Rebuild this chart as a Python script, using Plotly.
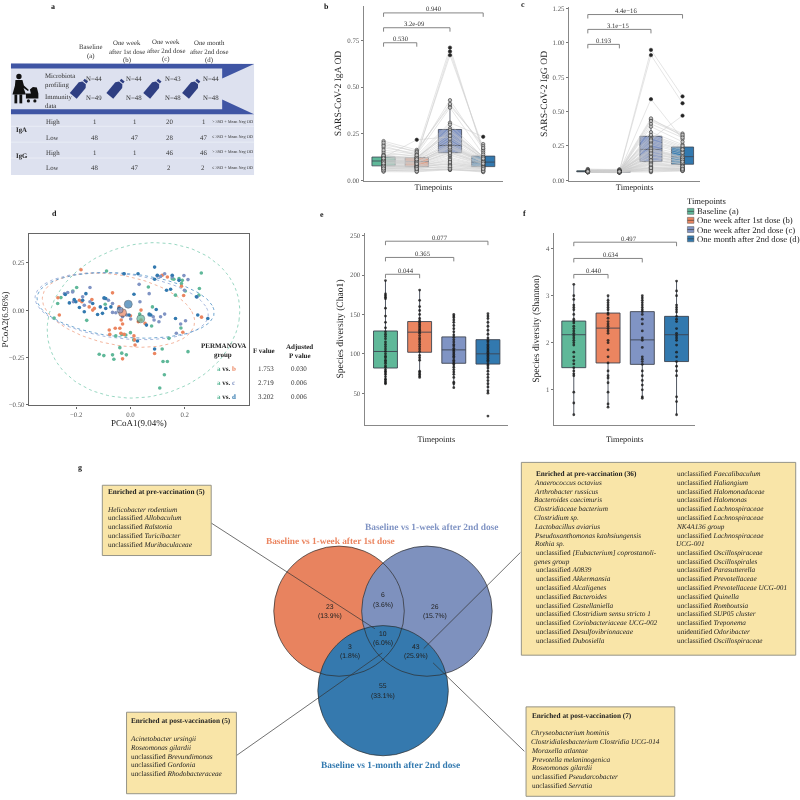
import math
import plotly.graph_objects as go

# ---------- data ----------
TIMEPOINTS = ["Baseline (a)", "One week after 1st dose (b)", "One week after 2nd dose (c)", "One month after 2nd dose (d)"]
COLORS = ["#5FB899", "#EB8560", "#8094C4", "#3279AF"]

IGA_A = [.106,.052,.131,.088,.212,.072,.097,.118,.064,.143,.083,.109,.058,.125,.092,.176,
         .075,.101,.137,.049,.114,.086,.193,.068,.105,.122,.079,.154,.095,.061,.112,.128,
         .082,.203,.099,.071,.117,.164,.056,.108,.091,.134,.077,.186,.103,.066,.120,.094]
IGA_B = [.112,.062,.118,.081,.165,.078,.102,.124,.071,.135,.079,.098,.055,.219,.088,.147,
         .083,.094,.121,.048,.109,.076,.158,.066,.101,.127,.069,.129,.092,.058,.106,.116,
         .074,.152,.096,.072,.113,.141,.051,.104,.086,.123,.073,.137,.099,.064,.115,.091]
IGA_C = [.192,.058,.28,.125,.40,.088,.16,.265,.071,.31,.135,.19,.062,.235,.15,.43,
         .105,.175,.27,.06,.21,.118,.41,.082,.185,.25,.095,.69,.155,.07,.20,.26,
         .112,.71,.168,.09,.225,.39,.065,.18,.14,.30,.10,.67,.178,.078,.24,.148]
IGA_D = [.108,.055,.125,.082,.196,.07,.095,.13,.062,.235,.085,.104,.05,.12,.09,.17,
         .076,.098,.128,.047,.112,.08,.185,.066,.102,.118,.074,.16,.094,.058,.11,.122,
         .078,.15,.1,.068,.115,.14,.052,.105,.088,.127,.072,.175,.101,.064,.119,.092]
IGG_A = [.065,.062,.068,.06,.07,.064,.066,.078,.063,.067,.061,.065,.069,.058,.064,.082,
         .066,.063,.07,.06,.065,.068,.062,.066,.064,.072,.061,.067,.065,.063,.069,.06,
         .066,.064,.075,.062,.068,.065,.063,.067,.061,.07,.064,.066,.059,.068,.063,.065]
IGG_B = [.064,.06,.066,.058,.068,.062,.065,.08,.061,.066,.06,.063,.067,.055,.063,.076,
         .065,.061,.068,.059,.064,.066,.06,.065,.062,.07,.06,.065,.064,.061,.067,.058,
         .065,.062,.072,.061,.066,.064,.061,.065,.06,.068,.063,.064,.057,.066,.062,.064]
IGG_C = [.225,.06,.32,.14,.44,.09,.17,.31,.075,.948,.15,.22,.065,.28,.16,.45,
         .12,.19,.30,.08,.24,.13,.43,.10,.21,.27,.11,.91,.18,.085,.23,.35,
         .125,.59,.20,.095,.26,.41,.07,.215,.145,.33,.115,.39,.195,.09,.29,.17]
IGG_D = [.17,.07,.24,.12,.34,.085,.14,.23,.075,.61,.12,.165,.068,.22,.13,.32,
         .10,.15,.47,.08,.19,.11,.33,.09,.16,.21,.095,.56,.14,.075,.175,.26,
         .105,.30,.155,.085,.20,.31,.072,.165,.125,.25,.10,.28,.15,.082,.225,.135]

# box summaries: low fence, q1, median, q3, high fence
IGA_BOX = [[.05,.08,.106,.127,.212],[.048,.076,.103,.124,.165],[.058,.15,.189,.274,.43],[.047,.076,.10,.132,.196]]
IGG_BOX = [[.058,.062,.065,.069,.082],[.055,.06,.064,.067,.08],[.06,.136,.225,.32,.45],[.068,.117,.172,.242,.35]]
CHAO_BOX = [[62,82,103,129,193],[70,102,127.5,141,181],[57,88,105,121.5,150],[50,87,100,118,151]]
SHAN_BOX = [[.47,1.47,2.17,2.46,3.24],[.63,1.57,2.31,2.63,3.0],[.82,1.54,2.06,2.66,3.0],[.47,1.6,2.17,2.56,3.31]]

CHAO_A = [62,63,65,67,68,71,74,76,78,80,83,85,88,90,92,95,97,100,103,106,109,112,115,119,122,125,128,133,140,148,158,170,172,174,176,193]
CHAO_B = [70,72,74,76,78,92,95,98,103,106,109,112,115,118,120,123,126,128,130,132,134,136,138,140,142,145,150,155,160,168,181]
CHAO_C = [57,62,64,70,74,77,80,83,86,88,90,92,95,97,99,101,103,105,107,110,112,115,118,121,124,128,132,136,140,143,146,148,150]
CHAO_D = [21,50,53,58,62,66,70,74,78,82,85,87,90,92,94,96,98,100,102,104,106,108,110,112,115,117,120,125,130,135,140,145,148,151]
SHAN_A = [.47,.72,.95,1.3,1.34,1.4,1.47,1.55,1.62,1.7,1.8,1.95,2.0,2.05,2.1,2.15,2.2,2.25,2.3,2.35,2.42,2.46,2.5,2.6,2.7,2.75,2.8,2.92,3.0,3.24]
SHAN_B = [.63,.7,.95,1.15,1.25,1.3,1.4,1.57,1.7,1.85,2.0,2.05,2.2,2.25,2.3,2.35,2.4,2.45,2.52,2.6,2.63,2.7,2.75,2.8,2.85,2.9,3.0]
SHAN_C = [.82,.85,1.0,1.1,1.2,1.3,1.4,1.54,1.6,1.65,1.7,1.9,2.05,2.1,2.25,2.4,2.5,2.6,2.66,2.7,2.75,2.8,2.85,2.9,2.95,3.0]
SHAN_D = [.47,.75,.85,1.3,1.4,1.5,1.6,1.7,1.8,1.95,2.05,2.1,2.15,2.2,2.3,2.45,2.5,2.56,2.65,2.7,2.75,2.8,3.0,3.1,3.31]

PCOA_A_X = [-.281,-.268,-.256,-.212,-.198,-.161,-.088,-.093,-.115,-.098,-.066,-.061,-.039,-.032,-.015,-.054,-.032,-.017,0,.012,.034,.066,.081,.078,.108,.125,.120,.136,.117,.142,.186,.212,.166,.154,.160,.179,.191,.188,.202,.254,.261,.252]
PCOA_A_Y = [-.042,.035,.066,.101,.119,-.054,.206,.031,-.233,-.240,-.236,-.259,-.198,-.227,-.236,-.136,-.128,-.131,-.119,-.157,-.021,.122,.017,-.084,-.411,-.341,-.271,-.271,-.205,-.149,-.094,-.219,.079,.166,.163,.166,.157,.140,.101,.114,.196,.079]
PCOA_B_X = [-.267,-.262,-.182,-.188,-.179,-.142,-.133,-.139,-.152,-.066,-.042,-.078,-.076,-.056,-.039,-.029,-.034,0,-.035,-.023,.013,.015,.017,-.029,.039,.029,.039,.054,.089,.117,.136,.188,.196,.193,.262]
PCOA_B_Y = [.065,-.026,.213,.052,.044,.056,.009,0,.017,.091,.017,-.105,-.128,-.096,-.096,-.073,-.052,-.030,-.122,-.128,-.136,-.157,-.184,-.257,0,-.061,-.052,-.070,-.229,.184,.175,.126,.077,-.117,-.037]
PCOA_C_X = [-.243,-.231,-.213,-.210,-.176,-.149,-.149,-.170,-.097,-.081,-.066,-.066,-.054,-.023,.001,-.013,.032,.035,.069,.084,.087,.105,.111,.126,.126,.154,.099,.111,.197,.212,.199,.246,.203,.185,.169,.069,-.029]
PCOA_C_Y = [.087,.093,.096,.044,.070,.119,.044,.026,.061,.052,.035,-.012,-.014,.192,-.047,-.026,.136,.044,-.026,-.035,-.052,-.061,-.035,-.021,.192,.175,.180,.178,.182,.161,.105,.070,-.056,-.073,-.122,.087,-.035]
PCOA_D_X = [-.240,-.225,-.207,-.201,-.188,-.176,-.164,-.170,-.139,-.121,-.111,-.097,-.091,-.091,-.072,-.103,.013,-.024,.028,.089,.089,.099,.133,.148,.154,.179,.243,.248,.285,.166,.059,.026,.089,.075,.095,-.042,-.005,.069]
PCOA_D_Y = [.082,.038,.056,.044,.014,.052,.087,-.009,.035,-.023,.017,.065,.061,.009,.017,-.017,.084,.192,.192,.227,.163,.184,.105,.110,.184,.157,.070,-.026,-.044,-.044,-.079,-.163,-.205,-.026,.003,.009,-.026,-.021]
CENTROID_X = [.038,-.029,-.038,-.008]
CENTROID_Y = [-.046,-.014,0,.031]
# ellipse: centre x, centre y, x half-width, y half-height, skew
ELLIPSES = [[.048,-.054,.352,.41,.043],[-.044,0,.267,.196,-.086],[-.032,.021,.309,.177,-.08],[-.018,.025,.319,.173,-.07]]

PERM_F = ["1.753", "2.719", "3.202"]
PERM_P = ["0.030", "0.006", "0.006"]

VENN_COUNTS = ["23", "6", "26", "10", "3", "43", "55"]
VENN_PCTS = ["(13.9%)", "(3.6%)", "(15.7%)", "(6.0%)", "(1.8%)", "(25.9%)", "(33.1%)"]

N_MICROBIOTA = ["N=44", "N=44", "N=43", "N=44"]
N_IMMUNITY = ["N=49", "N=48", "N=48", "N=48"]
TABLE_ROWS = [["High", "1", "1", "20", "1", "> 3SD + Mean Neg OD"],
              ["Low", "48", "47", "28", "47", "≤ 3SD + Mean Neg OD"],
              ["High", "1", "1", "46", "46", "> 3SD + Mean Neg OD"],
              ["Low", "48", "47", "2", "2", "≤ 3SD + Mean Neg OD"]]

BOX_TL = ["<i>Helicobacter rodentium</i>", "unclassified <i>Allobaculum</i>", "unclassified <i>Ralstonia</i>",
          "unclassified <i>Turicibacter</i>", "unclassified <i>Muribaculaceae</i>"]
BOX_BL = ["<i>Acinetobacter ursingii</i>", "<i>Roseomonas gilardii</i>", "unclassified <i>Brevundimonas</i>",
          "unclassified <i>Gordonia</i>", "unclassified <i>Rhodobacteraceae</i>"]
BOX_BR = ["<i>Chryseobacterium hominis</i>", "<i>Clostridialesbacterium Clostridia UCG-014</i>", "<i>Moraxella atlantae</i>",
          "<i>Prevotella melaninogenica</i>", "<i>Roseomonas gilardii</i>", "unclassified <i>Pseudarcobacter</i>", "unclassified <i>Serratia</i>"]
BOX_TR1 = ["<b>Enriched at pre-vaccination (36)</b>", "<i>Anaerococcus octavius</i>", "<i>Arthrobacter russicus</i>",
           "<i>Bacteroides caecimuris</i>", "<i>Clostridiaceae bacterium</i>", "<i>Clostridium sp.</i>", "<i>Lactobacillus aviarius</i>",
           "<i>Pseudoxanthomonas kaohsiungensis</i>", "<i>Rothia sp.</i>", "unclassified <i>[Eubacterium] coprostanoli-</i>",
           "<i>genes group</i>", "unclassified <i>A0839</i>", "unclassified <i>Akkermansia</i>", "unclassified <i>Alcaligenes</i>",
           "unclassified <i>Bacteroides</i>", "unclassified <i>Castellaniella</i>", "unclassified <i>Clostridium sensu stricto 1</i>",
           "unclassified <i>Coriobacteriaceae UCG-002</i>", "unclassified <i>Desulfovibrionaceae</i>", "unclassified <i>Dubosiella</i>"]
BOX_TR2 = ["unclassified <i>Faecalibaculum</i>", "unclassified <i>Haliangium</i>", "unclassified <i>Halomonadaceae</i>",
           "unclassified <i>Halomonas</i>", "unclassified <i>Lachnospiraceae</i>", "unclassified <i>Lachnospiraceae</i>",
           "<i>NK4A136 group</i>", "unclassified <i>Lachnospiraceae</i>", "<i>UCG-001</i>", "unclassified <i>Oscillospiraceae</i>",
           "unclassified <i>Oscillospirales</i>", "unclassified <i>Parasutterella</i>", "unclassified <i>Prevotellaceae</i>",
           "unclassified <i>Prevotellaceae UCG-001</i>", "unclassified <i>Quinella</i>", "unclassified <i>Romboutsia</i>",
           "unclassified <i>SUP05 cluster</i>", "unclassified <i>Treponema</i>", "unidentified <i>Odoribacter</i>",
           "unclassified <i>Oscillospiraceae</i>"]

SERIF = "Liberation Serif"
SANS = "Liberation Sans"

# ---------- helpers ----------
def px(x): return x / 800
def py(y): return 1 - y / 800

annotations, shapes = [], []
def text(x, y, s, size=7, color="#222", anchor="left", family=SERIF, angle=0):
    if s.startswith("<i>"):
        x -= 1.3
    annotations.append(dict(x=px(x), y=py(y), xref="paper", yref="paper", text=s, showarrow=False,
                            xanchor=anchor, yanchor="middle", align=anchor, textangle=angle,
                            font=dict(family=family, size=size, color=color), borderpad=0, borderwidth=0))
def poly(pts, fill=None, line=None, width=0.8, layer="above"):
    d = "M" + " L".join(f"{px(x):.5f},{py(y):.5f}" for x, y in pts) + " Z"
    shapes.append(dict(type="path", path=d, xref="paper", yref="paper", fillcolor=fill or "rgba(0,0,0,0)",
                       line=dict(color=line or "rgba(0,0,0,0)", width=width if line else 0), layer=layer))
def rect(x0, y0, x1, y1, fill=None, line=None, width=0.8):
    shapes.append(dict(type="rect", x0=px(x0), x1=px(x1), y0=py(y1), y1=py(y0), xref="paper", yref="paper",
                       fillcolor=fill or "rgba(0,0,0,0)", line=dict(color=line or "rgba(0,0,0,0)", width=width if line else 0)))
def seg(x0, y0, x1, y1, color="#555", width=0.7):
    shapes.append(dict(type="line", x0=px(x0), x1=px(x1), y0=py(y0), y1=py(y1), xref="paper", yref="paper",
                       line=dict(color=color, width=width)))
def circle(cx, cy, r, fill=None, line=None, width=0.7):
    shapes.append(dict(type="circle", x0=px(cx - r), x1=px(cx + r), y0=py(cy + r), y1=py(cy - r), xref="paper", yref="paper",
                       fillcolor=fill or "rgba(0,0,0,0)", line=dict(color=line or "rgba(0,0,0,0)", width=width if line else 0)))
def dom_x(a, b): return [a / 800, b / 800]
def dom_y(top, bottom): return [1 - bottom / 800, 1 - top / 800]

fig = go.Figure()

def add_boxes(ax, boxes, width, lw=0.8):
    for i, (name, col, b) in enumerate(zip(TIMEPOINTS, COLORS, boxes)):
        fig.add_trace(go.Box(x=[name], lowerfence=[b[0]], q1=[b[1]], median=[b[2]], q3=[b[3]], upperfence=[b[4]],
                             width=width, fillcolor=col, line=dict(color="#3d4450", width=lw), whiskerwidth=0,
                             boxpoints=False, name=name, showlegend=False, xaxis=ax[0], yaxis=ax[1], hoverinfo="skip"))

def add_brackets(ax, spans, levels, drop, labels, label_x, label_off):
    for end, lv, lab, lx in zip(spans, levels, labels, label_x):
        fig.add_trace(go.Scatter(x=[TIMEPOINTS[0], TIMEPOINTS[0], TIMEPOINTS[end], TIMEPOINTS[end]],
                                 y=[lv - drop, lv, lv, lv - drop], mode="lines", line=dict(color="#777", width=0.9),
                                 showlegend=False, xaxis=ax[0], yaxis=ax[1], hoverinfo="skip"))
        annotations.append(dict(x=lx, y=lv + label_off, xref=ax[0], yref=ax[1], text=lab, showarrow=False,
                                yanchor="middle", font=dict(family=SERIF, size=6.7, color="#333")))

def add_paired(ax, series, fences, msize=3.4):
    xs, ys = [], []
    for vals in zip(*series):
        xs += TIMEPOINTS + [None]
        ys += list(vals) + [None]
    fig.add_trace(go.Scatter(x=xs, y=ys, mode="lines", line=dict(color="rgba(205,205,205,0.65)", width=0.8),
                             showlegend=False, xaxis=ax[0], yaxis=ax[1], hoverinfo="skip"))
    for name, vals, f in zip(TIMEPOINTS, series, fences):
        colors = ["#222" if v > f else "#c4c4c4" for v in vals]
        fig.add_trace(go.Scatter(x=[name] * len(vals), y=vals, mode="markers",
                                 marker=dict(size=msize, color=colors, line=dict(color="#333", width=0.6)),
                                 showlegend=False, xaxis=ax[0], yaxis=ax[1], hoverinfo="skip"))

def add_dots(ax, series, size=2.8):
    for name, vals in zip(TIMEPOINTS, series):
        fig.add_trace(go.Scatter(x=[name] * len(vals), y=vals, mode="markers",
                                 marker=dict(size=size, color="rgba(25,25,25,0.8)"),
                                 showlegend=False, xaxis=ax[0], yaxis=ax[1], hoverinfo="skip"))

# ---------- b / c ----------
add_boxes(("x", "y"), IGA_BOX, 0.7)
add_paired(("x", "y"), [IGA_A, IGA_B, IGA_C, IGA_D], [b[4] for b in IGA_BOX])
add_brackets(("x", "y"), [3, 2, 1], [.895, .816, .736], .021, ["0.940", "3.2e-09", "0.530"], [1.53, .93, .53], .021)
add_boxes(("x2", "y2"), IGG_BOX, 0.7)
add_paired(("x2", "y2"), [IGG_A, IGG_B, IGG_C, IGG_D], [b[4] for b in IGG_BOX])
add_brackets(("x2", "y2"), [3, 2, 1], [1.205, 1.097, .988], .029, ["4.4e\u221216", "3.1e\u221215", "0.193"], [1.2, .95, .5], .031)

# ---------- d ----------
for e, col in zip(ELLIPSES, ["#7FCDB2", "#F0A285", "#8FA5D6", "#4B8FC4"]):
    ts = [i * 2 * math.pi / 120 for i in range(121)]
    fig.add_trace(go.Scatter(x=[e[0] + e[2] * math.cos(t) + e[4] * math.sin(t) for t in ts],
                             y=[e[1] + e[3] * math.sin(t) for t in ts], mode="lines",
                             line=dict(color=col, width=0.8, dash="dot"), showlegend=False, xaxis="x3", yaxis="y3", hoverinfo="skip"))
for xs, ys, col in zip([PCOA_A_X, PCOA_B_X, PCOA_C_X, PCOA_D_X], [PCOA_A_Y, PCOA_B_Y, PCOA_C_Y, PCOA_D_Y], COLORS):
    fig.add_trace(go.Scatter(x=xs, y=ys, mode="markers", marker=dict(size=3.6, color=col), showlegend=False,
                             xaxis="x3", yaxis="y3", hoverinfo="skip"))
fig.add_trace(go.Scatter(x=CENTROID_X, y=CENTROID_Y, mode="markers",
                         marker=dict(size=[8, 8, 6, 8], color=COLORS, line=dict(color="#2b3a4a", width=0.6)),
                         showlegend=False, xaxis="x3", yaxis="y3", hoverinfo="skip"))

# ---------- e / f ----------
add_boxes(("x4", "y4"), CHAO_BOX, 0.7, lw=0.9)
add_dots(("x4", "y4"), [CHAO_A, CHAO_B, CHAO_C, CHAO_D])
add_brackets(("x4", "y4"), [3, 2, 1], [243, 222.4, 201], 5, ["0.077", "0.365", "0.044"], [1.6, 1.1, .6], 5.2)
add_boxes(("x5", "y5"), SHAN_BOX, 0.7, lw=0.9)
add_dots(("x5", "y5"), [SHAN_A, SHAN_B, SHAN_C, SHAN_D])
add_brackets(("x5", "y5"), [3, 2, 1], [4.135, 3.79, 3.45], .085, ["0.497", "0.634", "0.440"], [1.6, 1.1, .6], .085)

# ---------- panel a: graphic ----------
BG = "#DDE1EF"
BAND = "#3F55A4"
rect(8, 62, 252, 174, fill=BG)
poly([(8, 62), (252, 62.5), (220, 77), (220, 67), (8, 67)], fill=BAND)
poly([(8, 108), (220, 108), (220, 98), (252, 113), (8, 113)], fill=BAND)
for yy in (125, 141, 157):
    seg(8, yy, 252, yy, color="#EEF0F7", width=0.8)
# person and stroller
circle(16, 75, 2.7, fill="#111")
poly([(12.5, 78.5), (19.5, 78.5), (21, 84), (26, 88.5), (25, 89.5), (20.7, 86.5), (23, 93), (9.5, 93), (12, 84)], fill="#111")
rect(11.5, 93, 14.3, 102, fill="#111")
rect(16.5, 93, 19.3, 102, fill="#111")
poly([(27, 88), (30, 85.5), (34, 86), (35.5, 92), (35.5, 97), (23, 97), (23, 92), (28, 92)], fill="#111")
circle(25.5, 99.5, 1.6, fill="#111")
circle(32, 99.5, 1.6, fill="#111")
# bottles
BOTTLE_BODY = [(-9, -4.5), (5, -4.5), (8, -2.2), (8, 2.2), (5, 4.5), (-9, 4.5)]
BOTTLE_CAP = [(9, -2.2), (11.5, -2.2), (11.5, 2.2), (9, 2.2)]
th = math.radians(40)
for dx in (0, 36.7, 73.7, 112.7):
    for part in (BOTTLE_BODY, BOTTLE_CAP):
        poly([(76.3 + dx + u * math.sin(th) + v * math.cos(th), 87.5 - u * math.cos(th) + v * math.sin(th)) for u, v in part], fill="#2F3F82")

HEAD_X = [88, 124, 164, 207]
HEAD_LINES = [["Baseline", "(a)"], ["One week", "after 1st dose", "(b)"], ["One week", "after 2nd dose", "(c)"], ["One month", "after 2nd dose", "(d)"]]
HEAD_Y = [[45, 54], [41, 50, 58], [40, 49, 57], [41, 50, 58]]
for x, ls, ys in zip(HEAD_X, HEAD_LINES, HEAD_Y):
    for l, y in zip(ls, ys):
        text(x, y, l, size=6.8, anchor="center", color="#333")
for s, y in zip(["Microbiota", "profiling", "Immunity", "data"], [74, 83.3, 95.3, 104]):
    text(41.7, y, s, size=6.8, color="#333")
for x, a, b in zip([91.7, 131.7, 171, 208.7], N_MICROBIOTA, N_IMMUNITY):
    text(x, 77.3, a, size=6.8, anchor="center", color="#333")
    text(x, 96.3, b, size=6.8, anchor="center", color="#333")
text(13, 128, "<b>IgA</b>", size=6.8, color="#222", anchor="left")
text(13, 154, "<b>IgG</b>", size=6.8, color="#222", anchor="left")
for row, y in zip(TABLE_ROWS, [120.7, 136, 151.3, 167]):
    text(43, y, row[0], size=6.8, color="#333")
    for x, v in zip([91.5, 131.5, 167, 201], row[1:5]):
        text(x, y, v, size=6.8, anchor="center", color="#333")
    text(210, y - 0.5, row[5], size=4.3, color="#333")

# ---------- panel d table ----------
text(221, 346, "<b>PERMANOVA</b>", size=7, anchor="center")
text(221, 355, "<b>group</b>", size=7, anchor="center")
text(262, 351, "<b>F value</b>", size=7, anchor="center")
text(298, 347, "<b>Adjusted</b>", size=7, anchor="center")
text(298, 356, "<b>P value</b>", size=7, anchor="center")
for i, (y, letter, col, f, p) in enumerate(zip([369, 383, 397], "bcd", COLORS[1:], PERM_F, PERM_P)):
    text(224, y, f'<span style="color:{COLORS[0]}"><b>a</b></span> <b>vs.</b> <span style="color:{col}"><b>{letter}</b></span>', size=7, anchor="center")
    text(264, y, f, size=7, anchor="center", color="#333")
    text(297, y, p, size=7, anchor="center", color="#333")

# ---------- legend ----------
text(686.7, 200, "Timepoints", size=8.6, color="#222")
for name, col, y in zip(TIMEPOINTS, COLORS, [210.7, 219.7, 229, 238.3]):
    rect(687, y - 3, 693.5, y + 3, fill=col, line="#555", width=0.5)
    seg(687, y, 693.5, y, color="#333", width=0.6)
    text(697, y, name, size=8.7, color="#222")

# ---------- panel labels ----------
for s, x, y in [("a", 50, 5), ("b", 325, 5), ("c", 522, 3), ("d", 52, 213), ("e", 320, 214), ("f", 523, 213), ("g", 77, 468)]:
    text(x, y, f"<b>{s}</b>", size=8, color="#111", anchor="center")

# ---------- venn ----------
VC = {"o": (337.3, 613), "p": (425.5, 613), "b": (381.5, 693)}
R = 65.5
circle(*VC["o"], R, fill="#E8835F")
circle(*VC["p"], R, fill="#7E91BE")
circle(*VC["b"], R, fill="#3579AE")
for k in VC:
    circle(*VC[k], R, line="#2c2c2c", width=0.7)
for s, p, (x, y) in zip(VENN_COUNTS, VENN_PCTS, [(328.3, 608), (381.3, 596.7), (434, 608), (381.3, 635.3), (348, 648.3), (414.3, 648.3), (381.3, 688)]):
    text(x, y, s, size=6.8, anchor="center", family=SANS, color="#222")
    text(x, y + 10, p, size=6.8, anchor="center", family=SANS, color="#222")
text(328.7, 542, "<b>Baseline vs 1-week after 1st dose</b>", size=9.3, anchor="center", color=COLORS[1])
text(430, 528.7, "<b>Baseline vs 1-week after 2nd dose</b>", size=9.4, anchor="center", color=COLORS[2])
text(389.3, 767.7, "<b>Baseline vs 1-month after 2nd dose</b>", size=9.4, anchor="center", color=COLORS[3])

# ---------- leaders ----------
seg(209, 524.3, 373.3, 630.7, color="#333")
seg(234.3, 758.3, 380.7, 655, color="#333")
seg(422.3, 650.7, 519.3, 554, color="#333")
seg(431.7, 665, 523.3, 754, color="#333")

# ---------- yellow boxes ----------
YEL = "#F9E5A8"
BOXFONT = 7.25
def ybox(x0, y0, x1, y1):
    shapes.append(dict(type="rect", x0=px(x0), x1=px(x1), y0=py(y1), y1=py(y0), xref="paper", yref="paper",
                       fillcolor=YEL, line=dict(color="#8a8a80", width=0.9)))
ybox(99.7, 486.3, 209, 557)
text(105.7, 493.3, "<b>Enriched at pre-vaccination (5)</b>", size=BOXFONT)
for s, y in zip(BOX_TL, [511, 519.7, 528.3, 537, 546]):
    text(105.7, y, s, size=BOXFONT)
ybox(124, 714.7, 234.3, 796.7)
text(128.3, 724, "<b>Enriched at post-vaccination (5)</b>", size=BOXFONT)
for s, y in zip(BOX_BL, [741.7, 750.3, 759.3, 768, 776.7]):
    text(128.3, y, s, size=BOXFONT)
ybox(525, 709.3, 674.3, 799.3)
text(531.3, 718.3, "<b>Enriched at post-vaccination (7)</b>", size=BOXFONT)
for s, y in zip(BOX_BR, [736, 745, 753.7, 762.7, 771.3, 780.3, 789.3]):
    text(531.3, y, s, size=BOXFONT)
ybox(520.3, 463.3, 795.7, 657.3)
TR_Y = [475, 484, 492.7, 501.3, 510.3, 519.3, 528, 537, 545.7, 554.7, 563.3, 572, 581, 589.7, 598.3, 607.3, 616, 625, 633.7, 642.7]
for s, y in zip(BOX_TR1, TR_Y):
    text(534.7, y, s, size=BOXFONT)
for s, y in zip(BOX_TR2, TR_Y):
    text(676.7, y, s, size=BOXFONT)

# ---------- axes ----------
TICKF = dict(family=SERIF, size=6.8, color="#555")
TITLEF = dict(family=SERIF, size=9.6, color="#222")
XTF = dict(family=SERIF, size=8.3, color="#222")
def cat_axis(dom, rng, anchor, title=None, standoff=3):
    return dict(domain=dom, range=rng, anchor=anchor, type="category", categoryorder="array", categoryarray=TIMEPOINTS,
                showgrid=False, zeroline=False, showline=True, linecolor="#888", linewidth=1.1, ticks="",
                showticklabels=False, fixedrange=True,
                title=dict(text=title, font=XTF, standoff=standoff) if title else None)
def val_axis(dom, rng, anchor, vals, labels, title, standoff):
    return dict(domain=dom, range=rng, anchor=anchor, tickvals=vals, ticktext=labels, showgrid=False, zeroline=False,
                showline=True, linecolor="#888", linewidth=1.1, ticks="outside", ticklen=2, tickcolor="#777",
                tickfont=TICKF, fixedrange=True, title=dict(text=title, font=TITLEF, standoff=standoff))

fig.update_layout(
    width=800, height=800, margin=dict(l=0, r=0, t=0, b=0), paper_bgcolor="white", plot_bgcolor="rgba(0,0,0,0)",
    showlegend=False, boxmode="overlay", hovermode=False,
    xaxis=cat_axis(dom_x(362, 502), [-0.6, 3.6], "y", "Timepoints"),
    yaxis=val_axis(dom_y(4, 180), [0, .932], "x", [0, .25, .5, .75], ["0.00", "0.25", "0.50", "0.75"], "SARS-CoV-2 IgA OD", 3),
    xaxis2=cat_axis(dom_x(568, 700), [-0.6, 3.565], "y2", "Timepoints"),
    yaxis2=val_axis(dom_y(5, 180), [-.004, 1.26], "x2", [0, .25, .5, .75, 1, 1.25], ["0.00", "0.25", "0.50", "0.75", "1.00", "1.25"], "SARS-CoV-2 IgG OD", 3),
    xaxis3=dict(domain=dom_x(26, 247), range=[-.374, .437], anchor="y3", tickvals=[-.2, 0, .2], ticktext=["\u22120.2", "0.0", "0.2"],
                showgrid=False, zeroline=False, showline=True, mirror=True, linecolor="#666", linewidth=1.1,
                ticks="outside", ticklen=2, tickcolor="#666", tickfont=TICKF, fixedrange=True,
                title=dict(text="PCoA1(9.04%)", font=dict(family=SERIF, size=9, color="#222"), standoff=2)),
    yaxis3=dict(domain=dom_y(233, 406), range=[-.503, .404], anchor="x3", tickvals=[-.5, -.25, 0, .25],
                ticktext=["\u22120.50", "\u22120.25", "0.00", "0.25"], showgrid=False, zeroline=False, showline=True,
                mirror=True, linecolor="#666", linewidth=1.1, ticks="outside", ticklen=2, tickcolor="#666",
                tickfont=TICKF, fixedrange=True,
                title=dict(text="PCoA2(6.96%)", font=dict(family=SERIF, size=9, color="#222"), standoff=2)),
    xaxis4=cat_axis(dom_x(363, 507), [-0.61, 3.59], "y4", "Timepoints", 10),
    yaxis4=val_axis(dom_y(232, 426), [9.2, 254], "x4", [50, 100, 150, 200, 250], ["50", "100", "150", "200", "250"], "Species diversity (Chao1)", 4),
    xaxis5=cat_axis(dom_x(553, 695), [-0.58, 3.55], "y5", "Timepoints", 10),
    yaxis5=val_axis(dom_y(232, 426), [.245, 4.34], "x5", [1, 2, 3, 4], ["1", "2", "3", "4"], "Species diversity (Shannon)", 4),
    annotations=annotations, shapes=shapes,
)

POST = ("document.body.style.margin='0';"
        "document.querySelectorAll('.main-svg').forEach(function(s){"
        "s.style.willChange='transform';s.style.textRendering='geometricPrecision';});")
fig.write_html("out.html", config={"displayModeBar": False}, post_script=POST)
